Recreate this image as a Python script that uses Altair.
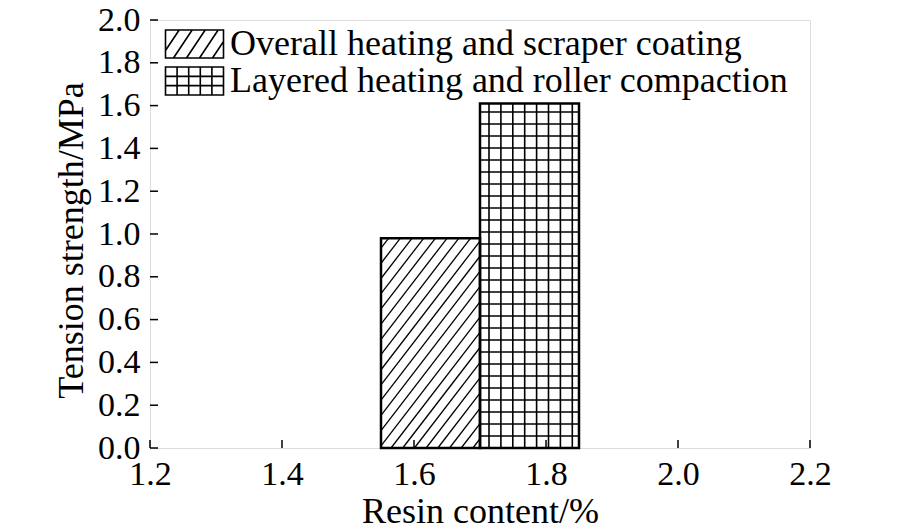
import altair as alt
import pandas as pd
import numpy as np

# ---- data ----
series = ["Overall heating and scraper coating", "Layered heating and roller compaction"]
x_start = [1.55, 1.70]
x_end = [1.70, 1.85]
strength = [0.98, 1.61]
x_ticks = [1.2, 1.4, 1.6, 1.8, 2.0, 2.2]
y_ticks = [0.0, 0.2, 0.4, 0.6, 0.8, 1.0, 1.2, 1.4, 1.6, 1.8, 2.0]

# ---- layout constants ----
W, H = 660, 428
X_DOM = [1.2, 2.2]
Y_DOM = [0.0, 2.0]
PXX = W / (X_DOM[1] - X_DOM[0])
PXY = H / (Y_DOM[1] - Y_DOM[0])
TICK = 8.0
FONT = "Liberation Serif"

bars = pd.DataFrame({"series": series, "x0": x_start, "x1": x_end, "v": strength})


def diag_segments(w, h, slope, step, phase):
    """segments (pixel, y up) of lines y = slope*(x-c) clipped to [0,w]x[0,h]"""
    segs = []
    c = phase
    while c > -h / slope:
        c -= step
    while c < w:
        xa = max(0.0, c)
        xb = min(w, c + h / slope)
        if xb > xa:
            segs.append((xa, slope * (xa - c), xb, slope * (xb - c)))
        c += step
    return segs


rows = []
# diagonal hatching for the first bar
w0 = (x_end[0] - x_start[0]) * PXX
h0 = strength[0] * PXY
for xa, ya, xb, yb in diag_segments(w0, h0, 1.3, 11.7, 10.0):
    rows.append({"x": x_start[0] + xa / PXX, "x2": x_start[0] + xb / PXX,
                 "y": ya / PXY, "y2": yb / PXY})
hatch = pd.DataFrame(rows)

rows = []
# square grid for the second bar
w1 = (x_end[1] - x_start[1]) * PXX
h1 = strength[1] * PXY
gx = 9.0
while gx < w1 - 3:
    rows.append({"x": x_start[1] + gx / PXX, "x2": x_start[1] + gx / PXX, "y": 0.0, "y2": strength[1]})
    gx += 11.9
gy = 12.0
while gy < h1 - 3:
    rows.append({"x": x_start[1], "x2": x_end[1], "y": gy / PXY, "y2": gy / PXY})
    gy += 12.0
grid = pd.DataFrame(rows)

# inward ticks built from the tick values
xt = pd.DataFrame({"x": x_ticks, "y": [Y_DOM[0]] * len(x_ticks),
                   "y2": [Y_DOM[0] + TICK / PXY] * len(x_ticks)})
yt = pd.DataFrame({"y": y_ticks, "x": [X_DOM[0]] * len(y_ticks),
                   "x2": [X_DOM[0] + TICK / PXX] * len(y_ticks)})

# ---- legend swatch paths (unit = 14.5 px, symbol size 841) ----
U = 14.5
SW, SH = 29.0, 14.0  # half width / half height in px


def fmt(v):
    return f"{v / U:.3f}"


rect_path = f"M{fmt(-SW)},{fmt(-SH)}H{fmt(SW)}V{fmt(SH)}H{fmt(-SW)}Z"
hp = rect_path
for xa, ya, xb, yb in diag_segments(2 * SW, 2 * SH, 1.5, 13.0, 8.0):
    hp += f"M{fmt(xa - SW)},{fmt(SH - ya)}L{fmt(xb - SW)},{fmt(SH - yb)}"
gp = rect_path
for k in range(1, 5):
    xx = -SW + k * (2 * SW / 5)
    gp += f"M{fmt(xx)},{fmt(-SH)}V{fmt(SH)}"
for k in range(1, 3):
    yy = -SH + k * (2 * SH / 3)
    gp += f"M{fmt(-SW)},{fmt(yy)}H{fmt(SW)}"

xscale = alt.Scale(domain=X_DOM, nice=False, zero=False)
yscale = alt.Scale(domain=Y_DOM, nice=False, zero=False)

x_axis = alt.Axis(values=x_ticks, format=".1f", title="Resin content/%",
                  ticks=False, tickSize=0, domain=False, grid=False,
                  labelPadding=9, labelFontSize=34,
                  labelFont=FONT, labelColor="black", titleFont=FONT,
                  titleFontSize=36, titleFontWeight="normal", titleColor="black",
                  titlePadding=3, labelFlush=False)
y_axis = alt.Axis(values=y_ticks, format=".1f", title="Tension strength/MPa",
                  ticks=False, tickSize=0, domain=False, grid=False,
                  labelPadding=10, labelFontSize=34,
                  labelFont=FONT, labelColor="black", titleFont=FONT,
                  titleFontSize=36, titleFontWeight="normal", titleColor="black",
                  titlePadding=7, titleY=220, labelFlush=False)

fill_layer = alt.Chart(bars).mark_rect(fill="white", stroke=None).encode(
    x=alt.X("x0:Q", scale=xscale, axis=x_axis),
    x2="x1:Q",
    y=alt.Y("v:Q", scale=yscale, axis=y_axis),
    y2=alt.datum(0),
)

legend_layer = alt.Chart(bars).mark_point(opacity=0, filled=False).encode(
    x=alt.X("x0:Q", scale=xscale),
    y=alt.Y("v:Q", scale=yscale),
    shape=alt.Shape("series:N", scale=alt.Scale(domain=series, range=[hp, gp]),
                    legend=alt.Legend(
                        title=None, orient="none", legendX=26.5, legendY=6,
                        padding=0, symbolSize=841, labelFont=FONT, labelFontSize=36,
                        labelColor="black", labelLimit=800, labelOffset=17.5,
                        rowPadding=1, symbolFillColor="white",
                        symbolStrokeColor="black", symbolStrokeWidth=1.6,
                        symbolOpacity=1)),
)

hatch_layer = alt.Chart(hatch).mark_rule(color="black", strokeWidth=1.3).encode(
    x=alt.X("x:Q", scale=xscale), x2="x2:Q",
    y=alt.Y("y:Q", scale=yscale), y2="y2:Q")

grid_layer = alt.Chart(grid).mark_rule(color="black", strokeWidth=1.6).encode(
    x=alt.X("x:Q", scale=xscale), x2="x2:Q",
    y=alt.Y("y:Q", scale=yscale), y2="y2:Q")

outline_layer = alt.Chart(bars).mark_rect(fill=None, stroke="black", strokeWidth=2.5).encode(
    x=alt.X("x0:Q", scale=xscale), x2="x1:Q",
    y=alt.Y("v:Q", scale=yscale), y2=alt.datum(0))

xtick_layer = alt.Chart(xt).mark_rule(color="black", strokeWidth=1.5).encode(
    x=alt.X("x:Q", scale=xscale),
    y=alt.Y("y:Q", scale=yscale), y2="y2:Q")

ytick_layer = alt.Chart(yt).mark_rule(color="black", strokeWidth=1.5).encode(
    x=alt.X("x:Q", scale=xscale), x2="x2:Q",
    y=alt.Y("y:Q", scale=yscale))

chart = alt.layer(fill_layer, hatch_layer, grid_layer, outline_layer,
                  xtick_layer, ytick_layer, legend_layer).properties(
    width=W, height=H,
    autosize=alt.AutoSizeParams(type="none"),
    padding={"left": 142, "top": 12, "right": 80, "bottom": 90},
).configure_view(stroke="black", strokeWidth=2).configure(background="white")

chart.save("out.html", embed_options={"renderer": "svg", "actions": False})
